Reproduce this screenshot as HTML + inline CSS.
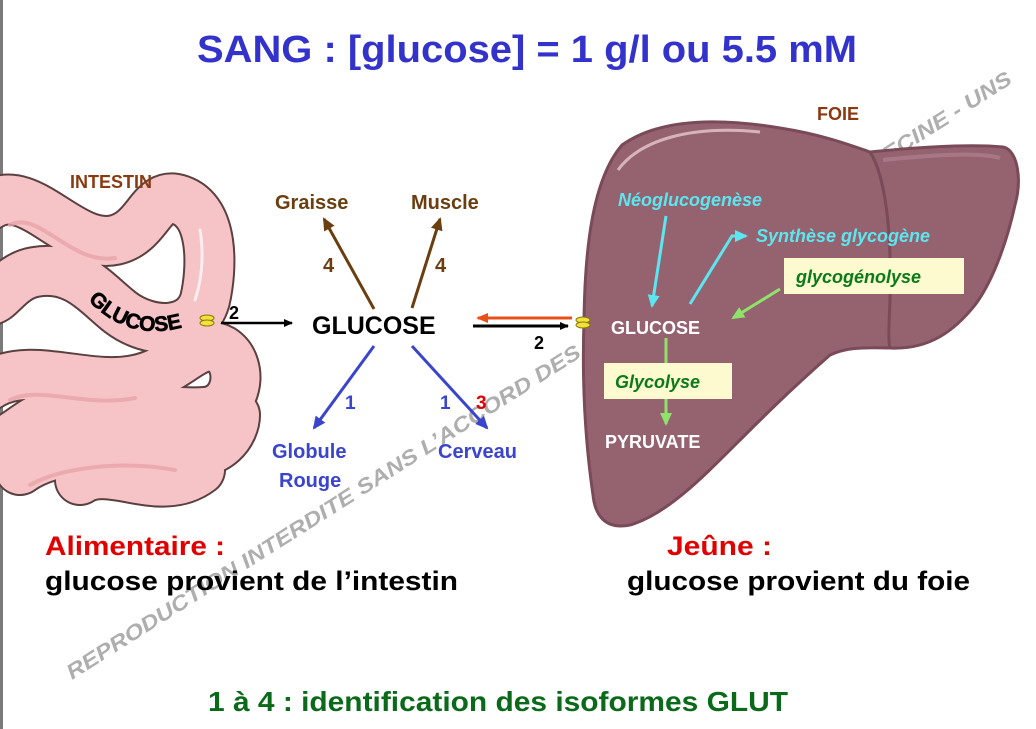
<!DOCTYPE html>
<html><head><meta charset="utf-8">
<style>
html,body{margin:0;padding:0;background:#fff;}
svg{display:block;}
text{font-family:"Liberation Sans",Arial,sans-serif;font-weight:bold;}
.n{font-family:"Liberation Sans Narrow","Liberation Sans",Arial,sans-serif;}
</style></head>
<body>
<svg width="1036" height="729" viewBox="0 0 1036 729" xmlns="http://www.w3.org/2000/svg">
<defs>
<marker id="ab" markerWidth="10" markerHeight="10" refX="8" refY="5" orient="auto" markerUnits="userSpaceOnUse"><path d="M0,1 L9,5 L0,9 z" fill="#000"/></marker>
<marker id="abr" markerWidth="14" markerHeight="14" refX="11" refY="7" orient="auto" markerUnits="userSpaceOnUse"><path d="M0,1 L13,7 L0,13 z" fill="#6b3e10"/></marker>
<marker id="abl" markerWidth="14" markerHeight="14" refX="11" refY="7" orient="auto" markerUnits="userSpaceOnUse"><path d="M0,1 L13,7 L0,13 z" fill="#3a44cc"/></marker>
<marker id="aor" markerWidth="12" markerHeight="12" refX="10" refY="6" orient="auto" markerUnits="userSpaceOnUse"><path d="M0,1 L12,6 L0,11 z" fill="#e8501a"/></marker>
<marker id="acy" markerWidth="14" markerHeight="14" refX="11" refY="7" orient="auto" markerUnits="userSpaceOnUse"><path d="M0,1 L13,7 L0,13 z" fill="#5ce6f0"/></marker>
<marker id="agr" markerWidth="14" markerHeight="14" refX="11" refY="7" orient="auto" markerUnits="userSpaceOnUse"><path d="M0,1 L13,7 L0,13 z" fill="#8fe26a"/></marker>
<path id="gp" d="M88,300 Q130,345 190,325"/>
</defs>

<rect x="0" y="0" width="3" height="729" fill="#7a7a7a"/>

<text x="0" y="0" transform="translate(72,680) rotate(-32.4)" font-size="21" fill="#9a9a9a" fill-opacity="0.8" font-style="italic" textLength="1115" lengthAdjust="spacingAndGlyphs">REPRODUCTION INTERDITE SANS L’ACCORD DES AUTEURS - FACULTE DE MEDECINE - UNS</text>

<g fill="none" stroke-linecap="round" stroke-linejoin="round">
 <g stroke="#5a4040" stroke-width="52">
  <path d="M-10,205 C30,180 70,250 115,240 C150,232 150,190 180,200 C215,212 212,270 205,300 C195,335 150,335 120,312 C95,292 75,265 35,272 C10,276 0,300 -10,300"/>
  <path d="M-10,385 C30,360 85,390 135,380 C180,372 195,335 222,350 C245,365 238,410 205,412 C165,415 100,398 55,412 C25,422 10,445 -10,445"/>
  <path d="M20,470 C50,448 120,440 175,452 C220,460 235,430 235,415"/>
  <path d="M80,480 C110,460 160,500 200,470"/>
 </g>
 <g stroke="#f6c4c6" stroke-width="48">
  <path d="M-10,205 C30,180 70,250 115,240 C150,232 150,190 180,200 C215,212 212,270 205,300 C195,335 150,335 120,312 C95,292 75,265 35,272 C10,276 0,300 -10,300"/>
  <path d="M-10,385 C30,360 85,390 135,380 C180,372 195,335 222,350 C245,365 238,410 205,412 C165,415 100,398 55,412 C25,422 10,445 -10,445"/>
  <path d="M20,470 C50,448 120,440 175,452 C220,460 235,430 235,415"/>
  <path d="M80,480 C110,460 160,500 200,470"/>
 </g>
 <g stroke="#e9a4a8" stroke-width="4" opacity="0.8">
  <path d="M10,225 C40,210 70,265 115,258"/>
  <path d="M10,400 C40,385 85,408 135,398"/>
  <path d="M30,485 C60,468 120,460 175,470"/>
 </g>
 <path d="M200,230 C205,260 200,285 195,300" stroke="#fff" stroke-width="3" opacity="0.7"/>
</g>
<text font-size="21" fill="#000" stroke="#000" stroke-width="0.6"><textPath href="#gp">GLUCOSE</textPath></text>
<text x="70" y="188" font-size="18" fill="#8a3a10">INTESTIN</text>
<ellipse cx="207" cy="318" rx="7" ry="3" fill="#f0e040" stroke="#8a7a00" stroke-width="1"/>
<ellipse cx="207" cy="323" rx="7" ry="3" fill="#f0e040" stroke="#8a7a00" stroke-width="1"/>

<path d="M622,145 C660,118 720,118 780,128 C820,134 850,145 870,152 C890,150 960,143 1003,147 C1018,150 1022,180 1015,205 C1005,250 990,285 975,305 C955,330 930,350 890,348 C860,347 845,348 830,355 C790,390 760,420 735,445 C700,480 665,515 630,525 C605,530 595,515 593,495 C585,440 582,380 584,320 C585,250 592,180 622,145 Z" fill="#956370" stroke="#7a4a58" stroke-width="3"/>
<path d="M870,152 C885,175 892,230 890,300 C889,325 888,340 890,348" fill="none" stroke="#7a4a58" stroke-width="3"/>
<path d="M618,170 C640,140 690,125 760,132" fill="none" stroke="#e6c8d0" stroke-width="3" opacity="0.8"/>
<path d="M883,160 C930,155 980,152 1000,158" fill="none" stroke="#b08090" stroke-width="4" opacity="0.7"/>
<text x="817" y="120" font-size="18" fill="#8a3a10">FOIE</text>
<text x="618" y="206" font-size="18" fill="#5ce6f0" font-style="italic">Néoglucogenèse</text>
<text x="756" y="242" font-size="18" fill="#5ce6f0" font-style="italic">Synthèse glycogène</text>
<path d="M666,216 L652,306" stroke="#5ce6f0" stroke-width="3" fill="none" marker-end="url(#acy)"/>
<path d="M690,304 L732,236 L746,236" stroke="#5ce6f0" stroke-width="3" fill="none" marker-end="url(#acy)"/>
<rect x="784" y="258" width="180" height="36" fill="#fdfad0"/>
<text x="796" y="283" font-size="18" fill="#0a7a1a" font-style="italic">glycogénolyse</text>
<path d="M780,289 L733,318" stroke="#8fe26a" stroke-width="3" fill="none" marker-end="url(#agr)"/>
<text x="611" y="334" font-size="18" fill="#fff">GLUCOSE</text>
<path d="M666,338 L666,364" stroke="#8fe26a" stroke-width="3"/>
<rect x="604" y="363" width="128" height="36" fill="#fdfad0"/>
<text x="615" y="388" font-size="18" fill="#0a7a1a" font-style="italic">Glycolyse</text>
<path d="M666,399 L666,424" stroke="#8fe26a" stroke-width="3" fill="none" marker-end="url(#agr)"/>
<text x="605" y="448" font-size="18" fill="#fff">PYRUVATE</text>

<text x="197" y="62" class="n" font-size="38" fill="#3333cc" textLength="660" lengthAdjust="spacingAndGlyphs">SANG : [glucose] = 1 g/l ou 5.5 mM</text>
<text x="312" y="334" font-size="25" fill="#000">GLUCOSE</text>
<path d="M221,323 L292,323" stroke="#000" stroke-width="2.5" marker-end="url(#ab)"/>
<text x="229" y="319" font-size="18" fill="#000" font-weight="normal">2</text>
<path d="M473,326 L568,326" stroke="#000" stroke-width="3" marker-end="url(#ab)"/>
<path d="M572,318 L478,318" stroke="#e8501a" stroke-width="3" marker-end="url(#aor)"/>
<text x="534" y="349" font-size="18" fill="#000" font-weight="normal">2</text>
<ellipse cx="583" cy="320" rx="7" ry="3" fill="#f0e040" stroke="#8a7a00" stroke-width="1"/>
<ellipse cx="583" cy="325" rx="7" ry="3" fill="#f0e040" stroke="#8a7a00" stroke-width="1"/>

<text x="275" y="209" font-size="20" fill="#6b3e10">Graisse</text>
<text x="411" y="209" font-size="20" fill="#6b3e10">Muscle</text>
<path d="M374,309 L324,219" stroke="#6b3e10" stroke-width="3" marker-end="url(#abr)"/>
<path d="M412,308 L440,219" stroke="#6b3e10" stroke-width="3" marker-end="url(#abr)"/>
<text x="323" y="272" font-size="20" fill="#6b3e10">4</text>
<text x="435" y="272" font-size="20" fill="#6b3e10">4</text>

<path d="M374,346 L314,428" stroke="#3a44cc" stroke-width="3" marker-end="url(#abl)"/>
<path d="M412,346 L487,428" stroke="#3a44cc" stroke-width="3" marker-end="url(#abl)"/>
<text x="345" y="409" font-size="19" fill="#3a44cc">1</text>
<text x="440" y="409" font-size="19" fill="#3a44cc">1</text>
<text x="476" y="409" font-size="19" fill="#e00000">3</text>
<text x="272" y="458" font-size="20" fill="#3a44cc">Globule</text>
<text x="279" y="487" font-size="20" fill="#3a44cc">Rouge</text>
<text x="438" y="458" font-size="20" fill="#3a44cc">Cerveau</text>

<text x="45" y="555" class="n" font-size="27" fill="#e00000" textLength="180" lengthAdjust="spacingAndGlyphs">Alimentaire :</text>
<text x="45" y="590" class="n" font-size="27" fill="#000" textLength="413" lengthAdjust="spacingAndGlyphs">glucose provient de l’intestin</text>
<text x="667" y="555" class="n" font-size="27" fill="#e00000" textLength="105" lengthAdjust="spacingAndGlyphs">Jeûne :</text>
<text x="627" y="590" class="n" font-size="27" fill="#000" textLength="343" lengthAdjust="spacingAndGlyphs">glucose provient du foie</text>
<text x="208" y="711" class="n" font-size="28" fill="#0a6a1a" textLength="580" lengthAdjust="spacingAndGlyphs">1 à 4 : identification des isoformes GLUT</text>
</svg>
</body></html>
